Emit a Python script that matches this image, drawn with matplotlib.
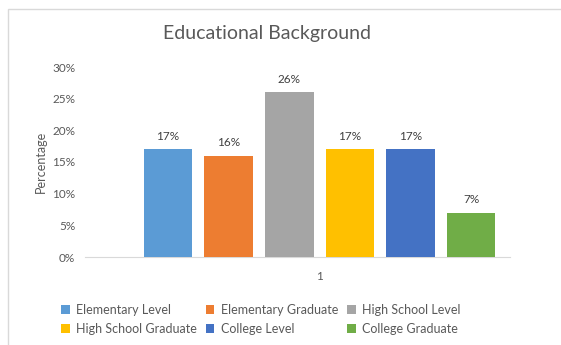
import matplotlib.pyplot as plt
from matplotlib.patches import Rectangle

# --- data ---
categories = ["Elementary Level", "Elementary Graduate", "High School Level",
              "High School Graduate", "College Level", "College Graduate"]
values = [0.17, 0.16, 0.26, 0.17, 0.17, 0.07]
labels = ["17%", "16%", "26%", "17%", "17%", "7%"]
colors = ["#5B9BD5", "#ED7D31", "#A5A5A5", "#FFC000", "#4472C4", "#70AD47"]
yticks = [0, 0.05, 0.10, 0.15, 0.20, 0.25, 0.30]
ytick_labels = ["0%", "5%", "10%", "15%", "20%", "25%", "30%"]

plt.rcParams['font.family'] = ['Lato', 'DejaVu Sans']
txt = '#595959'

fig = plt.figure(figsize=(5.61, 3.45), dpi=100)
fig.patch.set_facecolor('white')
# chart frame (light gray border, partially cropped)
fig.add_artist(Rectangle((8 / 561, -0.1), 1.2, 1 - 9 / 345 + 0.1, transform=fig.transFigure,
                         facecolor='none', edgecolor='#D9D9D9', lw=1))

ax = fig.add_axes([85 / 561, 1 - 257 / 345, 425 / 561, 190 / 345])
xs = list(range(len(values)))
bars = ax.bar(xs, values, width=0.8, color=colors, label=categories, zorder=3)
for b, lab in zip(bars, labels):
    ax.text(b.get_x() + b.get_width() / 2, b.get_height() + 0.012, lab,
            ha='center', va='bottom', fontsize=8.5, color='#404040')

ax.set_xlim(-1.37, 5.64)
ax.set_ylim(0, 0.30)
ax.set_yticks(yticks)
ax.set_yticklabels(ytick_labels, color=txt, fontsize=8.5)
ax.set_xticks([2.5])
ax.set_xticklabels(["1"], color=txt, fontsize=8.5)
ax.tick_params(length=0)
ax.tick_params(axis='y', pad=7)
ax.tick_params(axis='x', pad=10)
for s in ['top', 'right', 'left']:
    ax.spines[s].set_visible(False)
ax.spines['bottom'].set_color('#D9D9D9')
ax.set_ylabel("Percentage", color=txt, fontsize=9)
ax.yaxis.set_label_coords(-0.09, 0.5)

fig.text(267 / 561, 1 - 33 / 345, "Educational Background", ha='center', va='center',
         fontsize=14, color=txt)

# legend fills column-first, so reorder to read row by row
order = [0, 3, 1, 4, 2, 5]
fig.legend(handles=[bars[i] for i in order], labels=[categories[i] for i in order],
           ncol=3, loc='upper left', bbox_to_anchor=(56 / 561, 1 - 299 / 345),
           frameon=False, fontsize=9, handlelength=0.7, handleheight=0.7,
           handletextpad=0.5, columnspacing=0.7, labelspacing=0.55, labelcolor=txt,
           borderaxespad=0)

fig.savefig("out.png", dpi=100)
